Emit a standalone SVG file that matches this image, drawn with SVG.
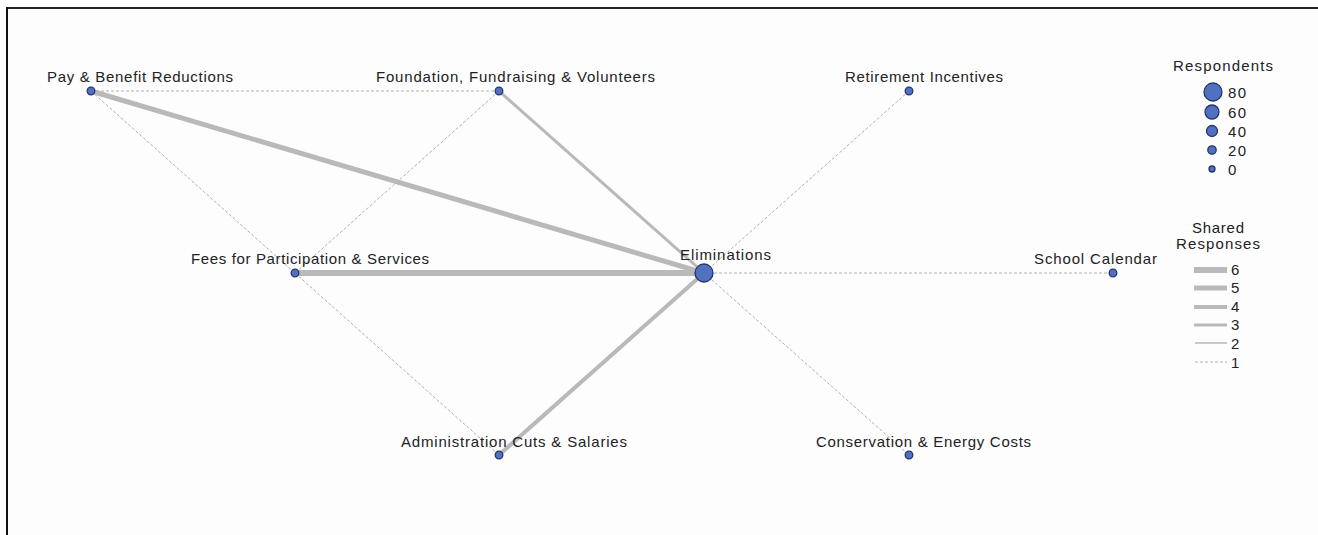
<svg xmlns="http://www.w3.org/2000/svg" width="1318" height="535" viewBox="0 0 1318 535">
<style>
text{font-family:"Liberation Sans",Arial,sans-serif;font-size:15px;fill:#222}
.e{stroke:#b9b9b9;fill:none;stroke-linecap:butt}
.d{stroke:#b0b0b0;stroke-width:1;stroke-dasharray:3,2;fill:none}
.n{fill:#5070c0;stroke:#26346a;stroke-width:1.3}
</style>
<rect x="0" y="0" width="1318" height="535" fill="#fdfdfd"/>
<line x1="6" y1="8" x2="1318" y2="8" stroke="#222" stroke-width="2"/>
<line x1="7" y1="7" x2="7" y2="535" stroke="#111" stroke-width="2"/>
<g id="connectors">
<line class="d" x1="91" y1="91" x2="499" y2="91"/>
<line class="d" x1="91" y1="91" x2="295" y2="273"/>
<line class="d" x1="499" y1="91" x2="295" y2="273"/>
<line class="d" x1="295" y1="273" x2="499" y2="455"/>
<line class="d" x1="909" y1="91" x2="704" y2="273"/>
<line class="d" x1="704" y1="273" x2="1113" y2="273"/>
<line class="d" x1="704" y1="273" x2="909" y2="455"/>
<line class="e" stroke-width="3" x1="499" y1="91" x2="704" y2="273"/>
<line class="e" stroke-width="4" x1="499" y1="455" x2="704" y2="273"/>
<line class="e" stroke-width="5" x1="91" y1="91" x2="704" y2="273"/>
<line class="e" stroke-width="6" x1="295" y1="273" x2="704" y2="273"/>
</g>
<g id="node-pay"><circle class="n" cx="91" cy="91" r="3.8"/><text x="47" y="82" textLength="186" lengthAdjust="spacing">Pay &amp; Benefit Reductions</text></g>
<g id="node-foundation"><circle class="n" cx="499" cy="91" r="3.8"/><text x="376" y="82" textLength="279" lengthAdjust="spacing">Foundation, Fundraising &amp; Volunteers</text></g>
<g id="node-retirement"><circle class="n" cx="909" cy="91" r="3.8"/><text x="845" y="82" textLength="158" lengthAdjust="spacing">Retirement Incentives</text></g>
<g id="node-fees"><circle class="n" cx="295" cy="273" r="3.8"/><text x="191" y="264" textLength="238" lengthAdjust="spacing">Fees for Participation &amp; Services</text></g>
<g id="node-eliminations"><circle class="n" cx="704" cy="273" r="9"/><text x="680" y="260" textLength="91" lengthAdjust="spacing">Eliminations</text></g>
<g id="node-school"><circle class="n" cx="1113" cy="273" r="3.8"/><text x="1034" y="264" textLength="123" lengthAdjust="spacing">School Calendar</text></g>
<g id="node-admin"><circle class="n" cx="499" cy="455" r="3.8"/><text x="401" y="447" textLength="226" lengthAdjust="spacing">Administration Cuts &amp; Salaries</text></g>
<g id="node-conservation"><circle class="n" cx="909" cy="455" r="3.8"/><text x="816" y="447" textLength="215" lengthAdjust="spacing">Conservation &amp; Energy Costs</text></g>
<g id="legend-respondents">
<text x="1173" y="71" textLength="100" lengthAdjust="spacing">Respondents</text>
<circle class="n" cx="1213" cy="92" r="9"/><text x="1228" y="98" textLength="18" lengthAdjust="spacing">80</text>
<circle class="n" cx="1212" cy="112" r="7"/><text x="1228" y="118" textLength="18" lengthAdjust="spacing">60</text>
<circle class="n" cx="1212" cy="131" r="5.5"/><text x="1228" y="137" textLength="18" lengthAdjust="spacing">40</text>
<circle class="n" cx="1212" cy="150" r="4.2"/><text x="1228" y="156" textLength="18" lengthAdjust="spacing">20</text>
<circle class="n" cx="1212" cy="169" r="3"/><text x="1228" y="175">0</text>
</g>
<g id="legend-shared">
<text x="1192" y="233" textLength="52" lengthAdjust="spacing">Shared</text>
<text x="1176" y="249" textLength="84" lengthAdjust="spacing">Responses</text>
<line class="e" stroke-width="6" x1="1194" y1="270" x2="1227" y2="270"/><text x="1231" y="275">6</text>
<line class="e" stroke-width="5" x1="1194" y1="288" x2="1227" y2="288"/><text x="1231" y="293">5</text>
<line class="e" stroke-width="4" x1="1194" y1="307" x2="1227" y2="307"/><text x="1231" y="312">4</text>
<line class="e" stroke-width="3" x1="1194" y1="325" x2="1227" y2="325"/><text x="1231" y="330">3</text>
<line class="e" stroke-width="1.5" x1="1195" y1="343" x2="1227" y2="343"/><text x="1231" y="349">2</text>
<line class="d" x1="1195" y1="362" x2="1227" y2="362"/><text x="1231" y="368">1</text>
</g>
</svg>
